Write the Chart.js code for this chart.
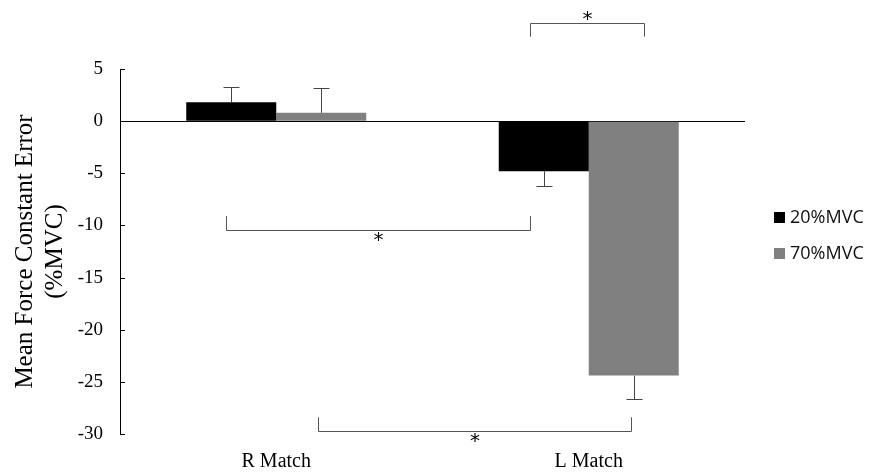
<!DOCTYPE html>
<html>
<head>
<meta charset="utf-8">
<script src="https://cdn.jsdelivr.net/npm/chart.js@4/dist/chart.umd.min.js"></script>
<style>
  html, body { margin: 0; padding: 0; background: #fff; }
  #wrap { width: 871px; height: 474px; }
</style>
</head>
<body>
<div id="wrap"><canvas id="chart"></canvas></div>
<script>
// data
var categories = ['R Match', 'L Match'];
var seriesNames = ['20%MVC', '70%MVC'];
var mvc20 = [1.8, -4.8];
var mvc70 = [0.8, -24.4];
var err20 = [1.5, 1.4];
var err70 = [2.4, 2.2];
var yTicks = [5, 0, -5, -10, -15, -20, -25, -30];

// significance brackets: [catA, barA, catB, barB, level, legs up(+1)/down(-1)]
var brackets = [
  [1, 0, 1, 1, 9.4, -1],
  [0, 0, 1, 0, -10.4, 1],
  [0, 1, 1, 1, -29.7, 1]
];
// small pixel nudges for bracket ends, same order as brackets
var bracketNudge = [[-14, 10], [-5, -14], [-3, -3]];

var serif = '"Liberation Serif", "Times New Roman", serif';

var extras = {
  id: 'extras',
  afterDatasetsDraw: function (chart) {
    var ctx = chart.ctx;
    var y = chart.scales.y;
    var area = chart.chartArea;
    var errs = [err20, err70];
    ctx.save();
    // inward tick marks on the value axis
    ctx.strokeStyle = '#000';
    ctx.lineWidth = 1;
    yTicks.forEach(function (v) {
      var ty = Math.round(y.getPixelForValue(v)) + 0.5;
      ctx.beginPath();
      ctx.moveTo(area.left, ty); ctx.lineTo(area.left + 5, ty);
      ctx.stroke();
    });
    // one-sided error bars
    ctx.strokeStyle = '#444';
    [mvc20, mvc70].forEach(function (vals, d) {
      var meta = chart.getDatasetMeta(d);
      vals.forEach(function (v, i) {
        var x = Math.round(meta.data[i].x) + 0.5;
        var tip = v >= 0 ? v + errs[d][i] : v - errs[d][i];
        var y0 = y.getPixelForValue(v), y1 = Math.round(y.getPixelForValue(tip)) + 0.5;
        ctx.beginPath();
        ctx.moveTo(x, y0); ctx.lineTo(x, y1);
        ctx.moveTo(x - 8, y1); ctx.lineTo(x + 8, y1);
        ctx.stroke();
      });
    });
    // brackets with asterisks
    ctx.strokeStyle = '#555';
    ctx.fillStyle = '#000';
    ctx.font = '20px "DejaVu Sans", sans-serif';
    ctx.textAlign = 'center';
    ctx.textBaseline = 'middle';
    brackets.forEach(function (b, k) {
      var xa = Math.round(chart.getDatasetMeta(b[1]).data[b[0]].x + bracketNudge[k][0]) + 0.5;
      var xb = Math.round(chart.getDatasetMeta(b[3]).data[b[2]].x + bracketNudge[k][1]) + 0.5;
      var yl = Math.round(y.getPixelForValue(b[4])) + 0.5;
      var leg = y.getPixelForValue(b[4] + b[5] * 1.3);
      ctx.beginPath();
      ctx.moveTo(xa, leg); ctx.lineTo(xa, yl); ctx.lineTo(xb, yl); ctx.lineTo(xb, leg);
      ctx.stroke();
      ctx.fillText('*', (xa + xb) / 2, b[5] > 0 ? yl + 10 : yl - 4);
    });
    // legend
    var colors = ['#000000', '#808080'];
    ctx.font = '18px "Open Sans", "Noto Sans", sans-serif';
    ctx.textAlign = 'left';
    seriesNames.forEach(function (name, i) {
      var ly = 218 + i * 36;
      ctx.fillStyle = colors[i];
      ctx.fillRect(774, ly - 6, 11, 11);
      ctx.fillStyle = '#111';
      ctx.fillText(name, 790, ly);
    });
    ctx.restore();
  }
};

new Chart(document.getElementById('chart'), {
  type: 'bar',
  data: {
    labels: categories,
    datasets: [
      { label: seriesNames[0], data: mvc20, backgroundColor: '#000000', borderWidth: 0 },
      { label: seriesNames[1], data: mvc70, backgroundColor: '#808080', borderWidth: 0 }
    ]
  },
  options: {
    responsive: true,
    maintainAspectRatio: false,
    animation: false,
    layout: { padding: { left: 10, right: 126, top: 69, bottom: 0 } },
    datasets: { bar: { categoryPercentage: 0.576, barPercentage: 1.0 } },
    plugins: { legend: { display: false }, tooltip: { enabled: false } },
    scales: {
      x: {
        grid: { display: false, drawTicks: false },
        border: { display: false },
        ticks: { color: '#000', font: { family: serif, size: 20 }, padding: 16 },
        afterFit: function (axis) { axis.height = 40; }
      },
      y: {
        min: -30, max: 5,
        afterBuildTicks: function (axis) { axis.ticks = yTicks.map(function (v) { return { value: v }; }); },
        afterFit: function (axis) { axis.width = 110; },
        border: { display: true, color: '#000', width: 1 },
        grid: {
          color: function (c) { return c.tick && c.tick.value === 0 ? '#000' : 'rgba(0,0,0,0)'; },
          drawTicks: false
        },
        ticks: { color: '#000', font: { family: serif, size: 19 }, padding: 17 },
        title: {
          display: true,
          text: ['Mean Force Constant Error', '(%MVC)'],
          color: '#000',
          font: { family: serif, size: 25, lineHeight: 1.2 },
          padding: { top: 0, bottom: 0 }
        }
      }
    }
  },
  plugins: [extras]
});
</script>
</body>
</html>
